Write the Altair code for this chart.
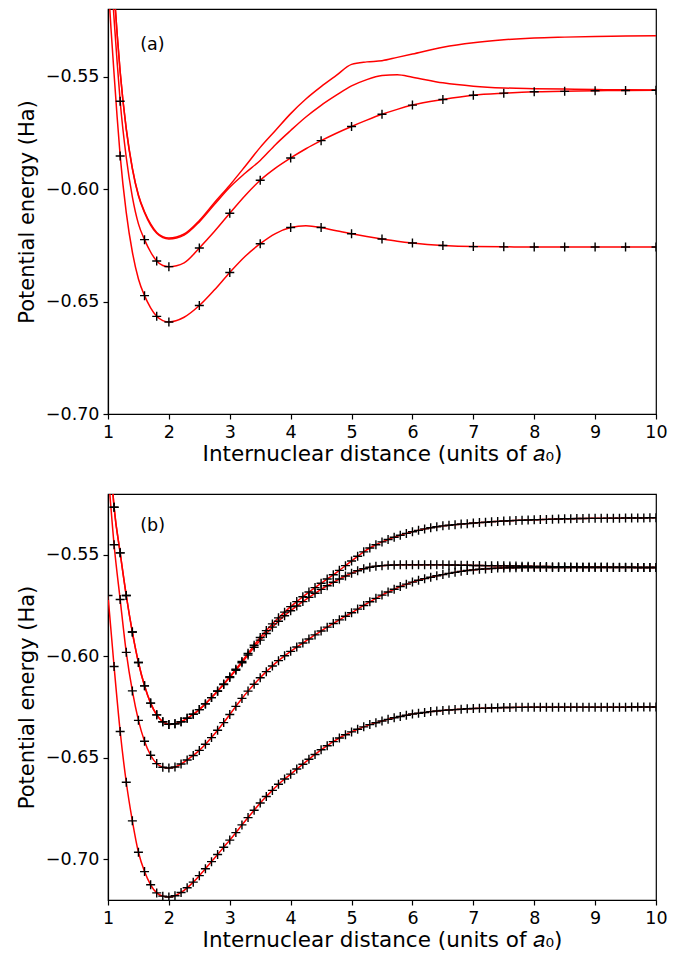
import altair as alt
import pandas as pd

# ---------------- Panel (a) ----------------
xa = [1.0, 1.05, 1.1, 1.15, 1.2, 1.3, 1.4, 1.5, 1.6, 1.7, 1.8, 1.9, 2.0, 2.25, 2.5, 2.75,
      3.0, 3.25, 3.5, 3.75, 4.0, 4.25, 4.5, 4.75, 5.0, 5.25, 5.5, 5.75, 6.0, 6.5, 7.0,
      7.5, 8.0, 8.5, 9.0, 9.5, 10.0]
a1 = [-0.470, -0.492, -0.512, -0.531, -0.548, -0.5732, -0.5907, -0.6027, -0.6101, -0.6155,
      -0.6193, -0.6212, -0.6218, -0.6200, -0.6140, -0.6060, -0.5983, -0.5900, -0.5815,
      -0.5740, -0.5665, -0.5600, -0.5545, -0.5495, -0.5446, -0.5435, -0.5430, -0.5415,
      -0.5400, -0.5370, -0.5350, -0.5337, -0.5329, -0.5325, -0.5322, -0.5320, -0.5319]
a2 = [-0.470, -0.492, -0.512, -0.531, -0.548, -0.5735, -0.5910, -0.6030, -0.6105, -0.6160,
      -0.6197, -0.6216, -0.6222, -0.6205, -0.6146, -0.6068, -0.5992, -0.5930, -0.5873,
      -0.5803, -0.5740, -0.5680, -0.5628, -0.5583, -0.5542, -0.5514, -0.5496, -0.5492,
      -0.5503, -0.5528, -0.5543, -0.5551, -0.5554, -0.5556, -0.5558, -0.5559, -0.5560]
a3 = [-0.482, -0.504, -0.5245, -0.5435, -0.561, -0.586, -0.6035, -0.6155, -0.6225, -0.628,
      -0.632, -0.634, -0.6345, -0.6328, -0.6262, -0.6188, -0.6108, -0.6030, -0.5961,
      -0.5907, -0.5862, -0.5821, -0.5785, -0.5752, -0.5722, -0.5694, -0.5668, -0.5646,
      -0.5627, -0.5602, -0.5583, -0.5574, -0.5568, -0.5566, -0.5563, -0.5562, -0.5561]
a4 = [-0.507, -0.529, -0.549, -0.568, -0.5853, -0.6105, -0.628, -0.640, -0.6474, -0.6528,
      -0.6566, -0.6585, -0.6591, -0.6570, -0.6518, -0.6448, -0.6371, -0.6300, -0.6243,
      -0.6198, -0.6171, -0.6163, -0.6171, -0.6186, -0.6199, -0.6211, -0.6222, -0.6232,
      -0.6240, -0.6251, -0.6256, -0.6257, -0.6258, -0.6258, -0.6258, -0.6258, -0.6258]

xa_m = [1.2, 1.6, 1.8, 2.0, 2.5, 3.0, 3.5, 4.0, 4.5, 5.0, 5.5, 6.0, 6.5, 7.0, 7.5, 8.0,
        8.5, 9.0, 9.5, 10.0]
a3_m = [-0.561, -0.6225, -0.632, -0.6345, -0.6262, -0.6108, -0.5961, -0.5862, -0.5785,
        -0.5722, -0.5668, -0.5627, -0.5602, -0.5583, -0.5574, -0.5568, -0.5566, -0.5563,
        -0.5562, -0.5561]
a4_m = [-0.5853, -0.6474, -0.6566, -0.6591, -0.6518, -0.6371, -0.6243, -0.6171, -0.6171,
        -0.6199, -0.6222, -0.6240, -0.6251, -0.6256, -0.6257, -0.6258, -0.6258, -0.6258,
        -0.6258, -0.6258]

# ---------------- Panel (b) ----------------
xb = [1.0, 1.1, 1.2, 1.3, 1.4, 1.5, 1.6, 1.7, 1.8, 1.9,
      2.0, 2.1, 2.2, 2.3, 2.4, 2.5, 2.6, 2.7, 2.8, 2.9,
      3.0, 3.1, 3.2, 3.3, 3.4, 3.5, 3.6, 3.7, 3.8, 3.9,
      4.0, 4.1, 4.2, 4.3, 4.4, 4.5, 4.6, 4.7, 4.8, 4.9,
      5.0, 5.1, 5.2, 5.3, 5.4, 5.5, 5.6, 5.7, 5.8, 5.9,
      6.0, 6.1, 6.2, 6.3, 6.4, 6.5, 6.6, 6.7, 6.8, 6.9,
      7.0, 7.1, 7.2, 7.3, 7.4, 7.5, 7.6, 7.7, 7.8, 7.9,
      8.0, 8.1, 8.2, 8.3, 8.4, 8.5, 8.6, 8.7, 8.8, 8.9,
      9.0, 9.1, 9.2, 9.3, 9.4, 9.5, 9.6, 9.7, 9.8, 9.9, 10.0]
b1 = [-0.484, -0.5265, -0.5490, -0.5700, -0.5880, -0.6030, -0.6145, -0.6230, -0.6288, -0.6322,
      -0.6335, -0.6332, -0.6322, -0.6305, -0.6285, -0.6262, -0.6234, -0.6203, -0.6170, -0.6136,
      -0.6100, -0.6063, -0.6025, -0.5985, -0.5945, -0.5907, -0.5873, -0.5840, -0.5810, -0.5782,
      -0.5755, -0.5730, -0.5706, -0.5683, -0.5661, -0.5640, -0.5619, -0.5598, -0.5576, -0.5553,
      -0.5530, -0.5507, -0.5485, -0.5466, -0.5450, -0.5436, -0.5424, -0.5413, -0.5403, -0.5394,
      -0.5386, -0.5379, -0.5372, -0.5366, -0.5361, -0.5357, -0.5354, -0.5351, -0.5348, -0.5346,
      -0.5343, -0.5341, -0.5339, -0.5337, -0.5335, -0.5333, -0.5332, -0.5330, -0.5329, -0.5328,
      -0.5327, -0.5326, -0.5325, -0.5324, -0.5323, -0.5322, -0.5322, -0.5321, -0.5321, -0.5320,
      -0.5320, -0.5320, -0.5319, -0.5319, -0.5319, -0.5318, -0.5318, -0.5318, -0.5318, -0.5317,
      -0.5317]
b2 = [-0.484, -0.5265, -0.5490, -0.5700, -0.5880, -0.6030, -0.6145, -0.6230, -0.6288, -0.6322,
      -0.6335, -0.6332, -0.6322, -0.6305, -0.6285, -0.6262, -0.6234, -0.6203, -0.6172, -0.6139,
      -0.6104, -0.6068, -0.6031, -0.5993, -0.5955, -0.5920, -0.5887, -0.5856, -0.5827, -0.5800,
      -0.5775, -0.5752, -0.5730, -0.5709, -0.5689, -0.5670, -0.5652, -0.5635, -0.5619, -0.5604,
      -0.5590, -0.5578, -0.5568, -0.5561, -0.5556, -0.5553, -0.5551, -0.5550, -0.5549, -0.5549,
      -0.5549, -0.5549, -0.5549, -0.5549, -0.5549, -0.5549, -0.5550, -0.5550, -0.5551, -0.5551,
      -0.5552, -0.5552, -0.5553, -0.5553, -0.5554, -0.5554, -0.5555, -0.5555, -0.5556, -0.5556,
      -0.5557, -0.5557, -0.5557, -0.5558, -0.5558, -0.5558, -0.5559, -0.5559, -0.5559, -0.5560,
      -0.5560, -0.5560, -0.5560, -0.5561, -0.5561, -0.5561, -0.5561, -0.5562, -0.5562, -0.5562,
      -0.5562]
b3 = [-0.508, -0.545, -0.572, -0.598, -0.617, -0.6315, -0.6418, -0.6487, -0.6528, -0.6546,
      -0.6550, -0.6545, -0.6530, -0.6510, -0.6488, -0.6463, -0.6433, -0.6400, -0.6364, -0.6326,
      -0.6286, -0.6246, -0.6207, -0.6171, -0.6137, -0.6105, -0.6075, -0.6047, -0.6021, -0.5997,
      -0.5975, -0.5954, -0.5934, -0.5914, -0.5894, -0.5875, -0.5856, -0.5838, -0.5820, -0.5802,
      -0.5785, -0.5767, -0.5749, -0.5731, -0.5714, -0.5698, -0.5683, -0.5669, -0.5656, -0.5644,
      -0.5634, -0.5625, -0.5617, -0.5610, -0.5603, -0.5597, -0.5591, -0.5586, -0.5581, -0.5577,
      -0.5574, -0.5571, -0.5569, -0.5567, -0.5565, -0.5564, -0.5563, -0.5563, -0.5562, -0.5562,
      -0.5562, -0.5562, -0.5562, -0.5562, -0.5562, -0.5562, -0.5562, -0.5562, -0.5562, -0.5562,
      -0.5562, -0.5562, -0.5562, -0.5562, -0.5562, -0.5562, -0.5562, -0.5562, -0.5562, -0.5562,
      -0.5562]
b4 = [-0.570, -0.605, -0.637, -0.662, -0.681, -0.6965, -0.706, -0.7125, -0.7165, -0.7181,
      -0.7185, -0.7179, -0.7163, -0.7140, -0.7112, -0.7080, -0.7046, -0.7011, -0.6976, -0.6940,
      -0.6905, -0.6868, -0.6830, -0.6794, -0.6758, -0.6722, -0.6690, -0.6660, -0.6630, -0.6604,
      -0.6580, -0.6555, -0.6531, -0.6507, -0.6483, -0.6460, -0.6440, -0.6420, -0.6402, -0.6386,
      -0.6372, -0.6359, -0.6347, -0.6336, -0.6327, -0.6318, -0.6310, -0.6302, -0.6296, -0.6290,
      -0.6284, -0.6280, -0.6276, -0.6272, -0.6269, -0.6266, -0.6264, -0.6262, -0.6260, -0.6258,
      -0.6257, -0.6256, -0.6255, -0.6254, -0.6253, -0.6252, -0.6252, -0.6251, -0.6251, -0.6250,
      -0.6250, -0.6250, -0.6250, -0.6250, -0.6250, -0.6250, -0.6250, -0.6250, -0.6250, -0.6250,
      -0.6250, -0.6250, -0.6250, -0.6250, -0.6250, -0.6250, -0.6249, -0.6249, -0.6249, -0.6249,
      -0.6249]

x_ticks = [1, 2, 3, 4, 5, 6, 7, 8, 9, 10]
y_ticks = [-0.70, -0.65, -0.60, -0.55]
panel_labels = ["(a)", "(b)"]


def long_df(x, series):
    rows = []
    for name, ys in series.items():
        assert len(ys) == len(x), (name, len(ys), len(x))
        for xv, yv in zip(x, ys):
            rows.append({"r": xv, "E": yv, "curve": name})
    return pd.DataFrame(rows)


dfa_lines = long_df(xa, {"a1": a1, "a2": a2, "a3": a3, "a4": a4})
dfa_marks = long_df(xa_m, {"a3": a3_m, "a4": a4_m})
dfb = long_df(xb, {"b1": b1, "b2": b2, "b3": b3, "b4": b4})

PLUS = "M-1,0L1,0M0,-1L0,1"
FONT = "DejaVu Sans"

x_enc = alt.X("r:Q", scale=alt.Scale(domain=[1, 10], nice=False, zero=False),
              axis=alt.Axis(title="Internuclear distance (units of 𝑎₀)", values=x_ticks,
                            format="d", titleFontSize=21.5))


def panel(df_lines, df_marks, ydom, label, lab_y, height):
    y_enc = alt.Y("E:Q", scale=alt.Scale(domain=ydom, nice=False, zero=False),
                  axis=alt.Axis(title="Potential energy (Ha)", values=y_ticks, format=".2f"))
    lines = alt.Chart(df_lines).mark_line(
        color="#ff0000", strokeWidth=1.5, clip=True, interpolate="monotone"
    ).encode(x=x_enc, y=y_enc, detail="curve:N")
    marks = alt.Chart(df_marks).mark_point(
        shape=PLUS, size=81, filled=False, color="black", strokeWidth=1.4,
        opacity=1, clip=True
    ).encode(x="r:Q", y="E:Q", detail="curve:N")
    txt = alt.Chart(pd.DataFrame({"r": [1.53], "E": [lab_y], "t": [label]})).mark_text(
        align="left", baseline="middle", fontSize=17.5, font=FONT, color="black"
    ).encode(x="r:Q", y="E:Q", text="t:N")
    return alt.layer(lines, marks, txt).properties(width=548, height=height)


pa = panel(dfa_lines, dfa_marks, [-0.70, -0.52], panel_labels[0], -0.536, 405)
pb = panel(dfb, dfb, [-0.72, -0.52], panel_labels[1], -0.536, 406)

chart = alt.vconcat(pa, pb, spacing=27).configure(
    font=FONT, padding={"left": 7, "right": 3, "top": 0, "bottom": 0}
).configure_axis(
    labelFont=FONT, titleFont=FONT, labelFontSize=17.5, titleFontSize=21,
    titleFontWeight="normal", labelColor="black", titleColor="black",
    domainColor="black", tickColor="black", domainWidth=1.2, tickWidth=1.2,
    tickSize=5, labelPadding=4, grid=False, labelFlush=False, labelOverlap=False
).configure_axisX(titlePadding=3).configure_axisY(titlePadding=8).configure_view(
    stroke="black", strokeWidth=1.2
)

chart.save("out.html", embed_options={"renderer": "svg", "actions": False})
